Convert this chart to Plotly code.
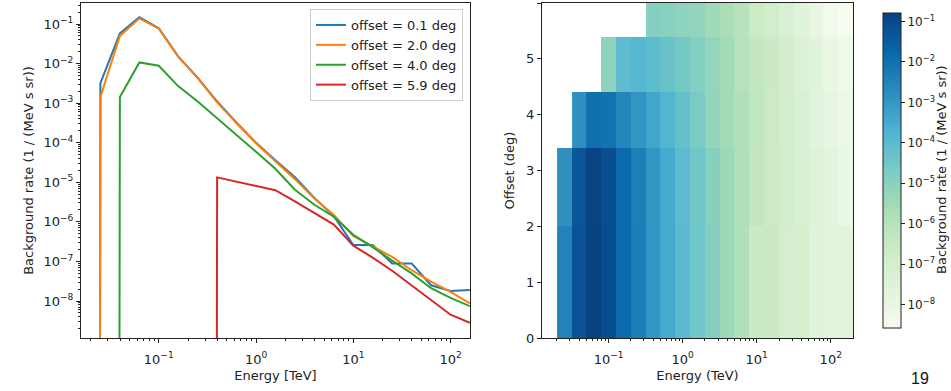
import numpy as np
import plotly.graph_objects as go

# ---------------- data ----------------
# energy bin centres (TeV) used in the left panel
E_CENTERS = [0.0158, 0.0251, 0.0398, 0.0631, 0.1, 0.158, 0.251, 0.398, 0.631, 1.0,
             1.58, 2.51, 3.98, 6.31, 10.0, 15.8, 25.1, 39.8, 63.1, 100.0, 158.0]
# energy bin edges (TeV) used in the right panel
E_EDGES = [0.0126, 0.02, 0.0316, 0.0501, 0.0794, 0.126, 0.2, 0.316, 0.501, 0.794, 1.26,
           2.0, 3.16, 5.01, 7.94, 12.6, 20.0, 31.6, 50.1, 79.4, 126.0, 200.0]

OFFSET_LABELS = ["offset = 0.1 deg", "offset = 2.0 deg", "offset = 4.0 deg", "offset = 5.9 deg"]

RATE_OFF_0P1 = [0, 3.2e-3, 0.058, 0.148, 0.078, 0.0152, 4.4e-3, 1.1e-3, 3.2e-4, 1.0e-4,
                3.6e-5, 1.35e-5, 4.0e-6, 1.4e-6, 2.6e-7, 2.6e-7, 8.9e-8, 8.9e-8, 2.5e-8, 1.8e-8, 1.9e-8]
RATE_OFF_2P0 = [0, 1.44e-3, 0.050, 0.139, 0.076, 0.0149, 4.3e-3, 1.05e-3, 3.1e-4, 9.7e-5,
                3.4e-5, 1.2e-5, 3.9e-6, 1.5e-6, 4.4e-7, 2.4e-7, 1.3e-7, 6.0e-8, 3.1e-8, 1.7e-8, 8.7e-9]
RATE_OFF_4P0 = [0, 0, 1.44e-3, 0.0107, 0.0088, 2.7e-3, 1.1e-3, 4.2e-4, 1.6e-4, 5.9e-5,
                2.2e-5, 6.5e-6, 2.7e-6, 1.35e-6, 4.7e-7, 2.3e-7, 1.05e-7, 5.0e-8, 2.1e-8, 1.2e-8, 7.4e-9]
RATE_OFF_5P9 = [0, 0, 0, 0, 0, 0, 0, 1.33e-5, 1.05e-5, 8.0e-6,
                6.3e-6, 3.3e-6, 1.7e-6, 8.5e-7, 2.5e-7, 1.25e-7, 5.8e-8, 2.5e-8, 1.07e-8, 4.5e-9, 2.8e-9]
# extra offset band (4.4 - 5.4 deg) only seen in the 2D map
RATE_OFF_4P9 = [0, 0, 0, 0, 8.5e-6, 8.7e-5, 1.3e-4, 9.0e-5, 5.0e-5, 3.0e-5,
                1.4e-5, 6.0e-6, 3.0e-6, 1.0e-6, 4.0e-7, 2.8e-7, 1.0e-7, 4.0e-8, 2.5e-8, 1.0e-8, 6.0e-9]

# offset bin edges (deg) of the 2D map and the rate row used in each band
OFFSET_EDGES = [0.0, 2.0, 3.4, 4.4, 5.4, 6.0]
MAP_ROWS = [RATE_OFF_0P1, RATE_OFF_2P0, RATE_OFF_4P0, RATE_OFF_4P9, RATE_OFF_5P9]

LINE_COLORS = ["#1f77b4", "#ff7f0e", "#2ca02c", "#d62728"]
ZERO_FLOOR = 1e-300  # zeros are clipped like matplotlib's log scale

FONT = "DejaVu Sans"
FS = 13
W, H = 951, 391


def sup(e):
    return "10<sup>\u2212%d</sup>" % (-e) if e < 0 else "10<sup>%d</sup>" % e


def minor_log(lo, hi):
    return [m * 10.0 ** e for e in range(lo, hi + 1) for m in range(2, 10)]


fig = go.Figure()

for label, vals, col in zip(OFFSET_LABELS,
                            [RATE_OFF_0P1, RATE_OFF_2P0, RATE_OFF_4P0, RATE_OFF_5P9],
                            LINE_COLORS):
    fig.add_trace(go.Scatter(
        x=E_CENTERS, y=[v if v > 0 else ZERO_FLOOR for v in vals],
        mode="lines", name=label, line=dict(color=col, width=2),
        xaxis="x", yaxis="y"))

z = [[float(np.log10(v)) if v > 0 else None for v in row] for row in MAP_ROWS]
cb_ticks = list(range(-8, 0))
fig.add_trace(go.Heatmap(
    x=E_EDGES, y=OFFSET_EDGES, z=z, colorscale="GnBu", zmin=-8.58, zmax=-0.79,
    xaxis="x2", yaxis="y2", showlegend=False,
    colorbar=dict(
        x=873 / W, xanchor="left", y=1 - 170.5 / H, yanchor="middle",
        thickness=18, thicknessmode="pixels", len=335, lenmode="pixels",
        outlinewidth=1, outlinecolor="#222",
        tickvals=cb_ticks, ticktext=[sup(e) for e in cb_ticks],
        ticks="outside", ticklen=4, tickcolor="#222",
        tickfont=dict(family=FONT, size=12, color="#222"),
    )))

axis_common = dict(showline=True, mirror=True, linecolor="#222", linewidth=1,
                   ticks="outside", ticklen=4, tickcolor="#222", showgrid=False,
                   zeroline=False, automargin=False,
                   tickfont=dict(family=FONT, size=FS, color="#222"))
minor_common = dict(ticks="outside", ticklen=2, tickcolor="#222", showgrid=False)

ydom = [1 - 338 / H, 1 - 3 / H]
xt = [-1, 0, 1, 2]
yt = list(range(-8, 0))

fig.update_layout(
    width=W, height=H, margin=dict(l=0, r=0, t=0, b=0),
    paper_bgcolor="white", plot_bgcolor="white",
    font=dict(family=FONT, size=FS, color="#222"),
    xaxis=dict(axis_common, domain=[81 / W, 470 / W], type="log", range=[-1.8, 2.2],
               tickvals=[10.0 ** e for e in xt], ticktext=[sup(e) for e in xt],
               ticklabelstandoff=5,
               minor=dict(minor_common, tickmode="array", tickvals=minor_log(-2, 2)),
               title=dict(text="Energy [TeV]", standoff=5, font=dict(family=FONT, size=FS)),
               anchor="y"),
    yaxis=dict(axis_common, domain=ydom, type="log", range=[-8.935, -0.469],
               tickvals=[10.0 ** e for e in yt], ticktext=[sup(e) for e in yt],
               minor=dict(minor_common, tickmode="array", tickvals=minor_log(-9, -1)),
               title=dict(text="Background rate (1 / (MeV s sr))", standoff=6,
                          font=dict(family=FONT, size=FS)),
               anchor="x"),
    xaxis2=dict(axis_common, domain=[542 / W, 853 / W], type="log", range=[-1.9, 2.3],
                tickvals=[10.0 ** e for e in xt], ticktext=[sup(e) for e in xt],
                ticklabelstandoff=5,
                minor=dict(minor_common, tickmode="array", tickvals=minor_log(-2, 2)),
                title=dict(text="Energy (TeV)", standoff=5, font=dict(family=FONT, size=FS)),
                anchor="y2"),
    yaxis2=dict(axis_common, domain=ydom, range=[0, 6], tickvals=list(range(0, 7)),
                title=dict(text="Offset (deg)", standoff=8, font=dict(family=FONT, size=FS)),
                anchor="x2"),
    legend=dict(x=463 / W, xanchor="right", y=1 - 9 / H, yanchor="top",
                bgcolor="rgba(255,255,255,0.8)", bordercolor="#cccccc", borderwidth=1,
                font=dict(family=FONT, size=FS, color="#222"), tracegroupgap=0),
    annotations=[
        dict(text="Background rate (1 / (MeV s sr))", x=942 / W, y=1 - 170 / H,
             xref="paper", yref="paper", textangle=-90, showarrow=False,
             xanchor="center", yanchor="middle", font=dict(family=FONT, size=FS, color="#222")),
        dict(text="19", x=920 / W, y=1 - 378 / H, xref="paper", yref="paper",
             showarrow=False, xanchor="center", yanchor="middle",
             font=dict(family="Liberation Sans", size=16, color="#111")),
    ],
)

fig.write_html("out.html")
